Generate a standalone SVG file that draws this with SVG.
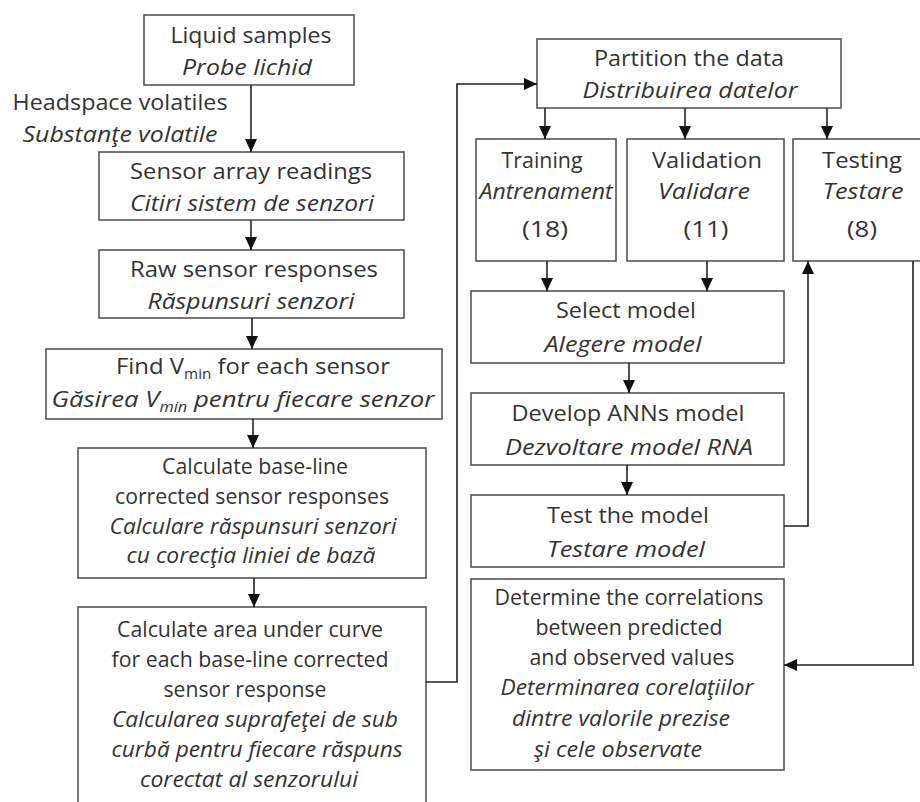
<svg xmlns="http://www.w3.org/2000/svg" width="920" height="802" viewBox="0 0 920 802">
<defs>
<marker id="ah" markerUnits="userSpaceOnUse" markerWidth="13" markerHeight="12" refX="13" refY="6" orient="auto">
<path d="M0,0 L13,6 L0,12 z" fill="#111"/>
</marker>
<style>
.box{fill:#fff;stroke:#555;stroke-width:1.6}
text{font-family:"Open Sans","Liberation Sans",sans-serif;font-size:22px;fill:#333;text-anchor:middle}
.i{font-style:italic}
.s{font-size:21px}
.c{fill:none;stroke:#222;stroke-width:1.6}
.sub{font-size:14px}
</style>
</defs>
<rect width="920" height="802" fill="#fff"/>
<g id="liquid"><rect class="box" x="144" y="15" width="210" height="70"/><text x="251" y="43" textLength="161" lengthAdjust="spacingAndGlyphs">Liquid samples</text><text class="i" x="247" y="75" textLength="130" lengthAdjust="spacingAndGlyphs">Probe lichid</text></g>
<g id="headspace"><text x="120" y="110" textLength="215" lengthAdjust="spacingAndGlyphs">Headspace volatiles</text><text class="i" x="120" y="142" textLength="195" lengthAdjust="spacingAndGlyphs">Substanţe volatile</text></g>
<g id="sensor"><rect class="box" x="99" y="152" width="305" height="68"/><text x="251" y="179" textLength="242" lengthAdjust="spacingAndGlyphs">Sensor array readings</text><text class="i" x="252" y="211" textLength="244" lengthAdjust="spacingAndGlyphs">Citiri sistem de senzori</text></g>
<g id="raw"><rect class="box" x="99" y="250" width="305" height="68"/><text x="254" y="277" textLength="248" lengthAdjust="spacingAndGlyphs">Raw sensor responses</text><text class="i" x="251" y="309" textLength="207" lengthAdjust="spacingAndGlyphs">Răspunsuri senzori</text></g>
<g id="vmin"><rect class="box" x="46" y="349" width="396" height="70"/><text x="253" y="374" textLength="274" lengthAdjust="spacingAndGlyphs">Find V<tspan class="sub" dy="5">min</tspan><tspan dy="-5"> for each sensor</tspan></text><text class="i" x="243" y="407" textLength="383" lengthAdjust="spacingAndGlyphs">Găsirea V<tspan class="sub" dy="5">min</tspan><tspan dy="-5">  pentru fiecare senzor</tspan></text></g>
<g id="baseline"><rect class="box" x="78" y="448" width="348" height="130"/><text class="s" x="255" y="474" textLength="186" lengthAdjust="spacingAndGlyphs">Calculate base-line</text><text class="s" x="252" y="504" textLength="274" lengthAdjust="spacingAndGlyphs">corrected sensor responses</text><text class="i s" x="253" y="534" textLength="287" lengthAdjust="spacingAndGlyphs">Calculare răspunsuri senzori</text><text class="i s" x="251" y="563" textLength="249" lengthAdjust="spacingAndGlyphs">cu corecţia liniei de bază</text></g>
<g id="area"><rect class="box" x="78" y="607" width="348" height="210"/><text class="s" x="250" y="637" textLength="266" lengthAdjust="spacingAndGlyphs">Calculate area under curve</text><text class="s" x="250" y="667" textLength="277" lengthAdjust="spacingAndGlyphs">for each base-line corrected</text><text class="s" x="245" y="697" textLength="163" lengthAdjust="spacingAndGlyphs">sensor response</text><text class="i s" x="255" y="727" textLength="286" lengthAdjust="spacingAndGlyphs">Calcularea suprafeţei de sub</text><text class="i s" x="257" y="757" textLength="291" lengthAdjust="spacingAndGlyphs">curbă pentru fiecare răspuns</text><text class="i s" x="249" y="787" textLength="218" lengthAdjust="spacingAndGlyphs">corectat al senzorului</text></g>
<g id="partition"><rect class="box" x="537" y="39" width="304" height="69"/><text x="689" y="66" textLength="190" lengthAdjust="spacingAndGlyphs">Partition the data</text><text class="i" x="690" y="98" textLength="215" lengthAdjust="spacingAndGlyphs">Distribuirea datelor</text></g>
<g id="training"><rect class="box" x="476" y="139" width="140" height="122"/><text class="s" x="542" y="168" textLength="81" lengthAdjust="spacingAndGlyphs">Training</text><text class="i s" x="546" y="199" textLength="133" lengthAdjust="spacingAndGlyphs">Antrenament</text><text x="545" y="237" textLength="46" lengthAdjust="spacingAndGlyphs">(18)</text></g>
<g id="validation"><rect class="box" x="627" y="139" width="157" height="122"/><text x="707" y="168" textLength="110" lengthAdjust="spacingAndGlyphs">Validation</text><text class="i" x="704" y="199" textLength="92" lengthAdjust="spacingAndGlyphs">Validare</text><text x="706" y="237" textLength="45" lengthAdjust="spacingAndGlyphs">(11)</text></g>
<g id="testing"><rect class="box" x="793" y="139" width="140" height="122"/><text x="862" y="168" textLength="80" lengthAdjust="spacingAndGlyphs">Testing</text><text class="i" x="863" y="199" textLength="81" lengthAdjust="spacingAndGlyphs">Testare</text><text x="862" y="237" textLength="30" lengthAdjust="spacingAndGlyphs">(8)</text></g>
<g id="select"><rect class="box" x="471" y="291" width="313" height="72"/><text x="626" y="318" textLength="140" lengthAdjust="spacingAndGlyphs">Select model</text><text class="i" x="623" y="352" textLength="157" lengthAdjust="spacingAndGlyphs">Alegere model</text></g>
<g id="develop"><rect class="box" x="471" y="393" width="313" height="72"/><text x="628" y="421" textLength="233" lengthAdjust="spacingAndGlyphs">Develop ANNs model</text><text class="i" x="629" y="455" textLength="248" lengthAdjust="spacingAndGlyphs">Dezvoltare model RNA</text></g>
<g id="testmodel"><rect class="box" x="471" y="495" width="313" height="72"/><text x="628" y="523" textLength="162" lengthAdjust="spacingAndGlyphs">Test the model</text><text class="i" x="626" y="557" textLength="158" lengthAdjust="spacingAndGlyphs">Testare model</text></g>
<g id="determine"><rect class="box" x="471" y="579" width="313" height="191"/><text class="s" x="629" y="605" textLength="269" lengthAdjust="spacingAndGlyphs">Determine the correlations</text><text class="s" x="629" y="635" textLength="187" lengthAdjust="spacingAndGlyphs">between predicted</text><text class="s" x="632" y="665" textLength="205" lengthAdjust="spacingAndGlyphs">and observed values</text><text class="i s" x="627" y="695" textLength="253" lengthAdjust="spacingAndGlyphs">Determinarea corelaţiilor</text><text class="i s" x="621" y="726" textLength="218" lengthAdjust="spacingAndGlyphs">dintre valorile prezise</text><text class="i s" x="618" y="757" textLength="168" lengthAdjust="spacingAndGlyphs">şi cele observate</text></g>
<g id="connectors">
<path class="c" d="M251,85 V152" marker-end="url(#ah)"/>
<path class="c" d="M251,220 V250" marker-end="url(#ah)"/>
<path class="c" d="M252,318 V349" marker-end="url(#ah)"/>
<path class="c" d="M253,419 V448" marker-end="url(#ah)"/>
<path class="c" d="M254,578 V607" marker-end="url(#ah)"/>
<path class="c" d="M426,682 H457 V84 H537" marker-end="url(#ah)"/>
<path class="c" d="M545,108 V139" marker-end="url(#ah)"/>
<path class="c" d="M685,108 V139" marker-end="url(#ah)"/>
<path class="c" d="M827,108 V139" marker-end="url(#ah)"/>
<path class="c" d="M547,261 V291" marker-end="url(#ah)"/>
<path class="c" d="M707,261 V291" marker-end="url(#ah)"/>
<path class="c" d="M629,363 V393" marker-end="url(#ah)"/>
<path class="c" d="M627,465 V495" marker-end="url(#ah)"/>
<path class="c" d="M784,526 H808 V261" marker-end="url(#ah)"/>
<path class="c" d="M913,261 V665 H784" marker-end="url(#ah)"/>
</g>
</svg>
